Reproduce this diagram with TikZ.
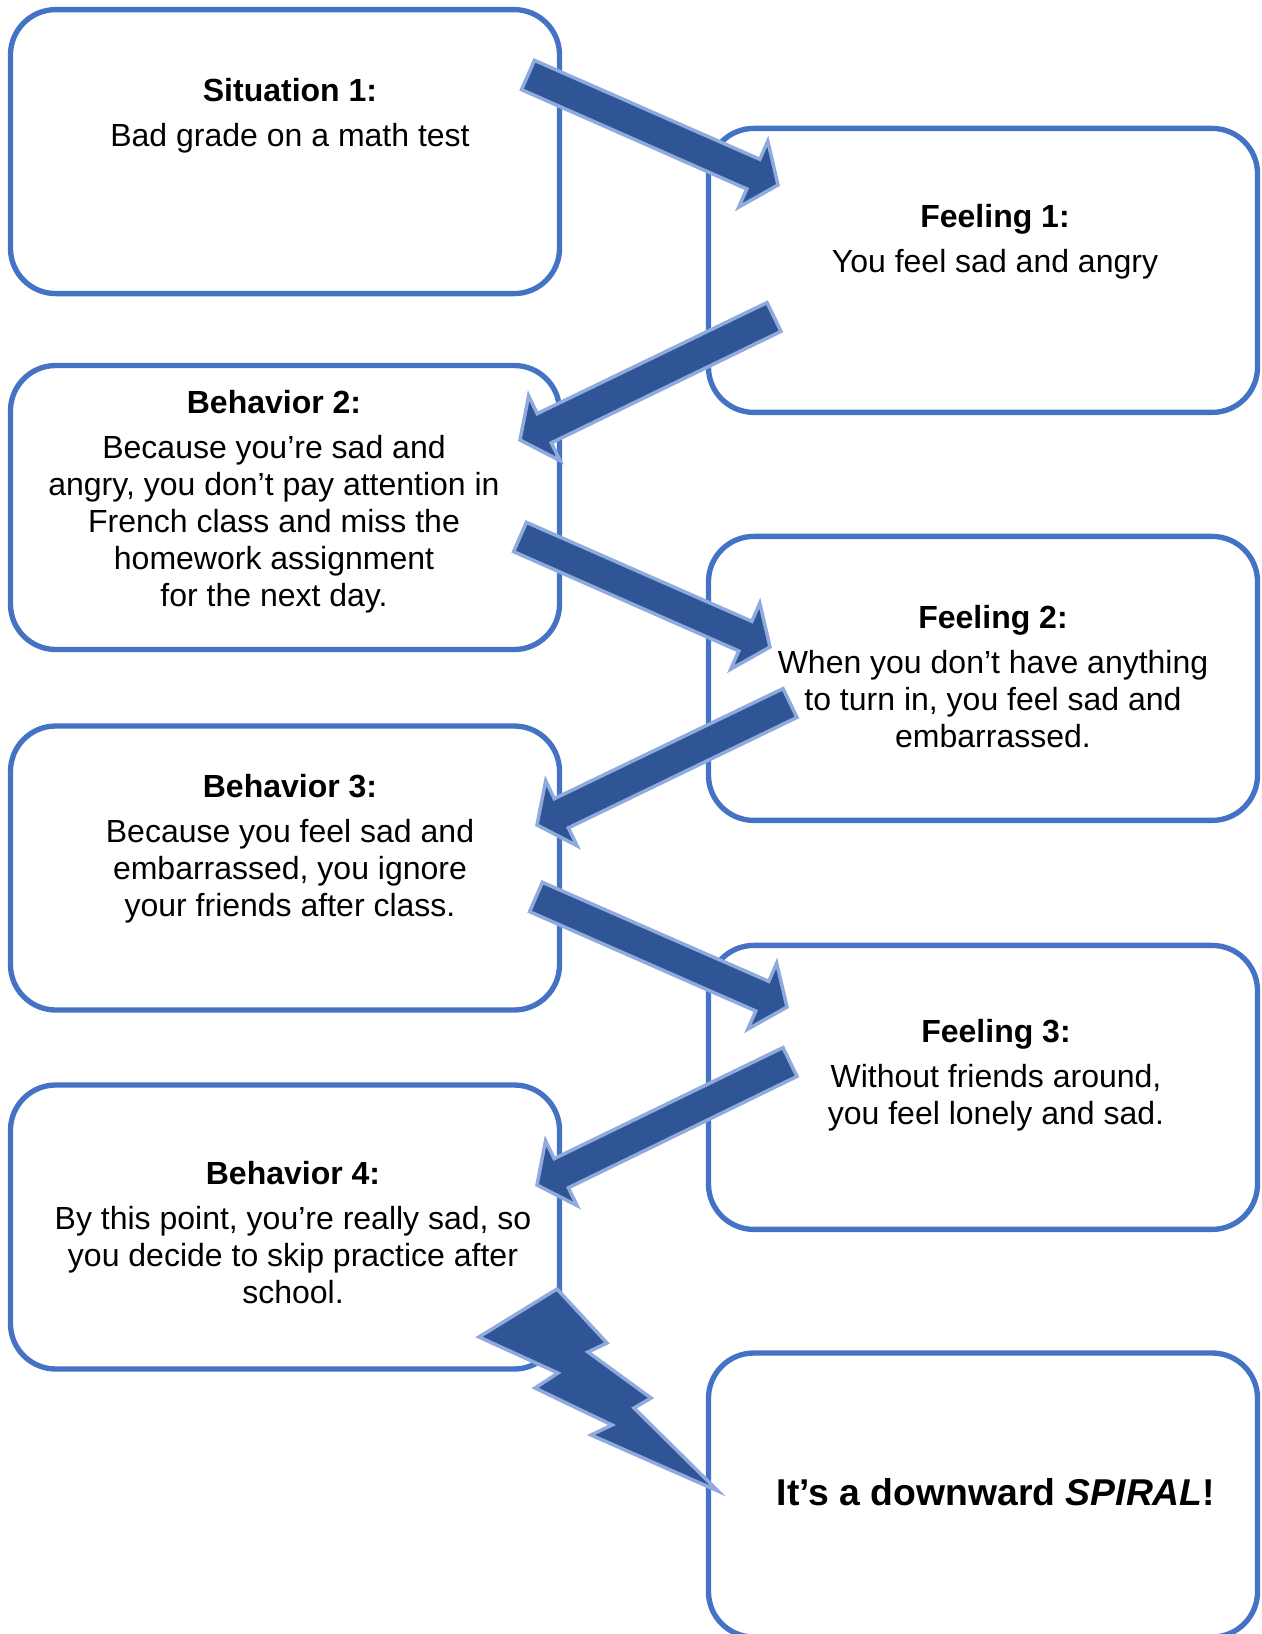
\documentclass[tikz,border=0pt]{standalone}
\usepackage{fontspec}
\setmainfont{Liberation Sans}
\usetikzlibrary{calc}
\definecolor{boxblue}{HTML}{4472C4}
\definecolor{arrowblue}{HTML}{2F5597}
\definecolor{rimblue}{HTML}{8FAADC}
\newcommand{\bw}{205.9pt}
\newcommand{\bh}{106.5pt}
\newcommand{\blockarrow}[2]{%
  \draw[barrow] ($(#1)!6pt!90:(#2)$) -- ($(#2)!11.8pt!-31.0:(#1)$) -- ($(#2)!16.9pt!-53.13:(#1)$)
    -- (#2) -- ($(#2)!16.9pt!53.13:(#1)$) -- ($(#2)!11.8pt!31.0:(#1)$) -- ($(#1)!6pt!-90:(#2)$) -- cycle;}

\begin{document}
\begin{tikzpicture}[x=0.375pt, y=-0.375pt,
    card/.style={draw=boxblue, line width=2pt, rounded corners=17pt, minimum width=\bw, minimum height=\bh, inner sep=0pt},
    txt/.style={align=center, inner sep=0pt, font=\fontsize{12}{13.9}\selectfont},
    barrow/.style={fill=arrowblue, draw=rimblue, line width=1.3pt, line join=miter}]
    \useasboundingbox (0,0) rectangle (1261,1634);

    % Left column
    \node[card] (s1) at (285,151.6) {};
    \node[card] (b2) at (285,507.5) {};
    \node[card] (b3) at (285,868) {};
    \node[card] (b4) at (285,1227) {};

    % Right column
    \node[card] (f1) at (983,270.4) {};
    \node[card] (f2) at (983,678.4) {};
    \node[card] (f3) at (983,1087.4) {};
    \node[card] (spiral) at (983,1495) {};

    % Arrows
    \coordinate (s1-out) at (528,75);
    \coordinate (f1-in) at (778,185);
    \coordinate (f1-out) at (774,317);
    \coordinate (b2-in) at (520,440);
    \coordinate (b2-out) at (520,537);
    \coordinate (f2-in) at (770,647);
    \coordinate (f2-out) at (790,703);
    \coordinate (b3-in) at (537,825);
    \coordinate (b3-out) at (536,897);
    \coordinate (f3-in) at (787,1007);
    \coordinate (f3-out) at (790,1062);
    \coordinate (b4-in) at (537,1185);

    \blockarrow{s1-out}{f1-in}
    \blockarrow{f1-out}{b2-in}
    \blockarrow{b2-out}{f2-in}
    \blockarrow{f2-out}{b3-in}
    \blockarrow{b3-out}{f3-in}
    \blockarrow{f3-out}{b4-in}

    % Lightning
    \draw[barrow] (557,1289) -- (607,1343) -- (588,1352) -- (651,1398) -- (634,1408) -- (718,1491)
        -- (591,1435) -- (612,1425) -- (535,1388) -- (558,1373) -- (479,1337) -- cycle;

    % Texts
    \node[txt] (s1-txt) at (290,116) {\textbf{Situation 1:}\\[3pt] Bad grade on a math test};
    \node[txt] (f1-txt) at (995,242) {\textbf{Feeling 1:}\\[3pt] You feel sad and angry};
    \node[txt] (b2-txt) at (274,501.5) {\textbf{Behavior 2:}\\[3pt] Because you’re sad and\\ angry, you don’t pay attention in\\ French class and miss the\\ homework assignment\\ for the next day.};
    \node[txt] (f2-txt) at (993,676.5) {\textbf{Feeling 2:}\\[3pt] When you don’t have anything\\ to turn in, you feel sad and\\ embarrassed.};
    \node[txt] (b3-txt) at (290,848.5) {\textbf{Behavior 3:}\\[3pt] Because you feel sad and\\ embarrassed, you ignore\\ your friends after class.};
    \node[txt] (f3-txt) at (996,1075) {\textbf{Feeling 3:}\\[3pt] Without friends around,\\ you feel lonely and sad.};
    \node[txt] (b4-txt) at (293,1232.5) {\textbf{Behavior 4:}\\[3pt] By this point, you’re really sad, so\\ you decide to skip practice after\\ school.};
    \node[txt, font=\fontsize{14}{16}\selectfont\bfseries] (spiral-txt) at (996,1492) {It’s a downward \textit{SPIRAL}!};

\end{tikzpicture}
\end{document}
